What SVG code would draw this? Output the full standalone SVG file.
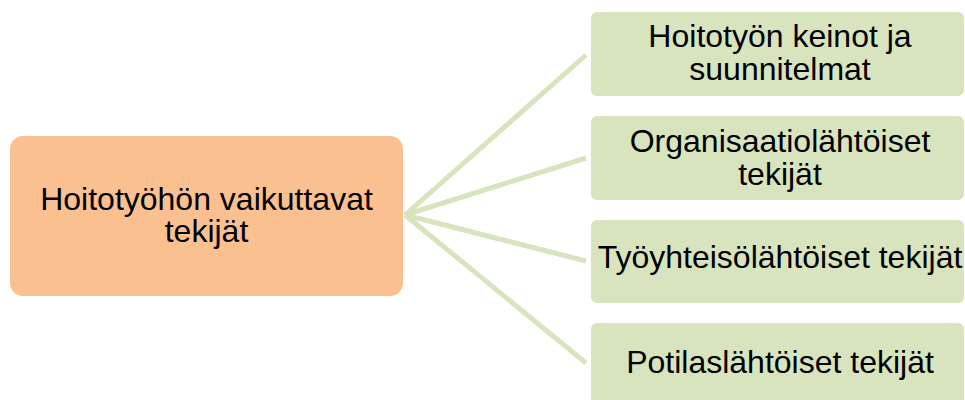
<svg xmlns="http://www.w3.org/2000/svg" width="965" height="400" viewBox="0 0 965 400">
<style>
.t{font-family:"Liberation Sans",Arial,sans-serif;font-size:32px;fill:#000;text-anchor:middle}
.g{fill:#D7E4BD}
.o{fill:#FAC090}
.c{stroke:#D7E4BD;stroke-width:5;fill:none;stroke-linecap:butt}
</style>
<rect width="965" height="400" fill="#fff"/>
<g id="connectors">
<line class="c" x1="405" y1="215" x2="586" y2="55"/>
<line class="c" x1="405" y1="215" x2="586" y2="158"/>
<line class="c" x1="405" y1="215" x2="586" y2="261"/>
<line class="c" x1="405" y1="215" x2="586" y2="363"/>
</g>
<g id="root">
<rect class="o" x="10" y="136" width="393" height="160" rx="13"/>
<text class="t" x="206.5" y="209.5">Hoitotyöhön vaikuttavat</text>
<text class="t" x="206.5" y="242">tekijät</text>
</g>
<g id="n1">
<rect class="g" x="591" y="12" width="373" height="84" rx="6"/>
<text class="t" x="780" y="47">Hoitotyön keinot ja</text>
<text class="t" x="780" y="80">suunnitelmat</text>
</g>
<g id="n2">
<rect class="g" x="591" y="116" width="373" height="84" rx="6"/>
<text class="t" x="780" y="152">Organisaatiolähtöiset</text>
<text class="t" x="780" y="185">tekijät</text>
</g>
<g id="n3">
<rect class="g" x="591" y="220" width="373" height="83" rx="6"/>
<text class="t" x="780" y="268">Työyhteisölähtöiset tekijät</text>
</g>
<g id="n4">
<rect class="g" x="591" y="323" width="373" height="84" rx="6"/>
<text class="t" x="780" y="373">Potilaslähtöiset tekijät</text>
</g>
</svg>
